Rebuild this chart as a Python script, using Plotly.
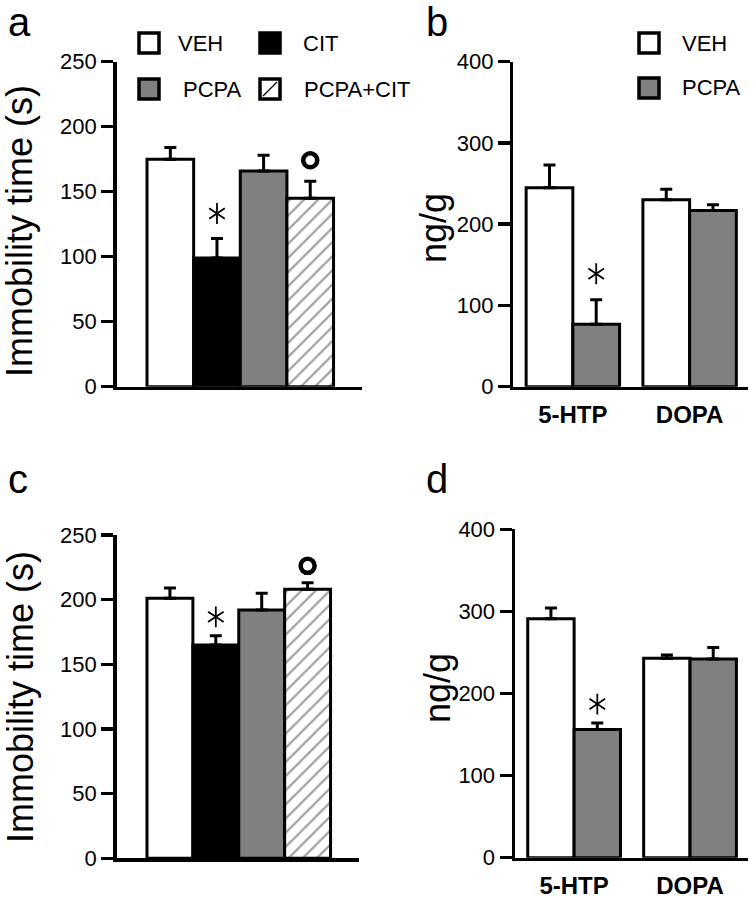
import plotly.graph_objects as go

# ---------------- data ----------------
treatments = ["VEH", "CIT", "PCPA", "PCPA+CIT"]
immob_a_mean = [175, 99, 166, 145]
immob_a_sem = [9, 15, 12, 13]
immob_c_mean = [201, 165, 192, 208]
immob_c_sem = [8, 7, 13, 5]

amines = ["5-HTP", "DOPA"]
b_veh_mean = [245, 230]
b_veh_sem = [28, 13]
b_pcpa_mean = [77, 217]
b_pcpa_sem = [30, 7]
d_veh_mean = [291, 243]
d_veh_sem = [13, 4]
d_pcpa_mean = [156, 242]
d_pcpa_sem = [8, 14]

immob_ticks = [0, 50, 100, 150, 200, 250]
amine_ticks = [0, 100, 200, 300, 400]

# ---------------- style ----------------
W, H = 754, 900
FONT = "Liberation Sans, Arial, Helvetica, sans-serif"
GRAY = "#808080"
LW = 3.5
bar_colors = ["white", "black", GRAY, "white"]
bar_patterns = ["", "", "", "/"]
BAR_W = 0.4


def fx(x):
    return x / W


def fy(y):
    return 1 - y / H


fig = go.Figure()

# panel geometry (pixels)
panels = {
    "a": dict(x=(116.7, 362.0), y=(61.7, 386.7)),
    "b": dict(x=(513.3, 748.0), y=(61.7, 386.7)),
    "c": dict(x=(116.7, 359.0), y=(535.0, 858.3)),
    "d": dict(x=(515.0, 748.0), y=(529.3, 857.7)),
}
axis_ids = {"a": ("x", "y"), "b": ("x2", "y2"), "c": ("x3", "y3"), "d": ("x4", "y4")}
yranges = {"a": [0, 250], "b": [0, 400], "c": [0, 250], "d": [0, 400]}
xranges = {"a": [-1.15, 4.11], "b": [-0.51, 1.5], "c": [-1.16, 4.12], "d": [-0.51, 1.5]}


def px_per_unit(p):
    y0, y1 = panels[p]["y"]
    return (y1 - y0) / (yranges[p][1] - yranges[p][0])


def err(sem):
    return dict(type="data", array=sem, arrayminus=[0] * len(sem), symmetric=False,
                color="black", thickness=3, width=6)


def star(p, xval, top, gap_px):
    xa, ya = axis_ids[p]
    yv = top + gap_px / px_per_unit(p)
    fig.add_trace(go.Scatter(x=[xval, xval], y=[yv, yv], mode="markers", xaxis=xa, yaxis=ya,
                             marker=dict(symbol=["y-up-open", "y-down-open"], size=13,
                                         color="black", line=dict(color="black", width=1.8)),
                             hoverinfo="skip"))


def ring(p, xval, top, gap_px):
    xa, ya = axis_ids[p]
    yv = top + gap_px / px_per_unit(p)
    fig.add_trace(go.Scatter(x=[xval], y=[yv], mode="markers", xaxis=xa, yaxis=ya,
                             marker=dict(symbol="circle-open", size=14, color="black",
                                         line=dict(color="black", width=4.5)),
                             hoverinfo="skip"))


# panels a and c
for p, mean, sem, sgap, rgap in [("a", immob_a_mean, immob_a_sem, 25, 21),
                                  ("c", immob_c_mean, immob_c_sem, 19, 17)]:
    xa, ya = axis_ids[p]
    xs = list(range(len(treatments)))
    fig.add_trace(go.Bar(x=xs, y=mean, width=1, xaxis=xa, yaxis=ya,
                         marker=dict(color=bar_colors, line=dict(color="black", width=3),
                                     pattern=dict(shape=bar_patterns, fgcolor="black", bgcolor="white",
                                                  size=10, solidity=0.22)),
                         error_y=err(sem), hovertext=treatments))
    i_cit = treatments.index("CIT")
    star(p, xs[i_cit], mean[i_cit] + sem[i_cit], sgap)
    i_pc = treatments.index("PCPA+CIT")
    ring(p, xs[i_pc], mean[i_pc] + sem[i_pc], rgap)

# panels b and d
for p, vm, vs, pm, ps, sgap in [("b", b_veh_mean, b_veh_sem, b_pcpa_mean, b_pcpa_sem, 26),
                                 ("d", d_veh_mean, d_veh_sem, d_pcpa_mean, d_pcpa_sem, 19)]:
    xa, ya = axis_ids[p]
    xs = list(range(len(amines)))
    fig.add_trace(go.Bar(x=xs, y=vm, width=BAR_W, offset=-BAR_W, xaxis=xa, yaxis=ya,
                         marker=dict(color="white", line=dict(color="black", width=3)),
                         error_y=err(vs), name="VEH"))
    fig.add_trace(go.Bar(x=xs, y=pm, width=BAR_W, offset=0, xaxis=xa, yaxis=ya,
                         marker=dict(color=GRAY, line=dict(color="black", width=3)),
                         error_y=err(ps), name="PCPA"))
    star(p, xs[0] + BAR_W / 2, pm[0] + ps[0], sgap)

# axes
layout_axes = {}
for p, (xa, ya) in axis_ids.items():
    xk = "xaxis" if xa == "x" else "xaxis" + xa[1:]
    yk = "yaxis" if ya == "y" else "yaxis" + ya[1:]
    gx = panels[p]["x"]
    gy = panels[p]["y"]
    is_amine = p in ("b", "d")
    xdict = dict(domain=[fx(gx[0]), fx(gx[1])], range=xranges[p], showgrid=False, zeroline=False,
                 showline=True, linecolor="black", linewidth=LW, ticks="", anchor=ya,
                 fixedrange=True, automargin=False)
    if is_amine:
        xdict.update(tickvals=list(range(len(amines))), ticktext=amines, showticklabels=True,
                     tickfont=dict(family=FONT, size=24, color="black", weight="bold"),
                     ticklabelstandoff=4)
    else:
        xdict.update(showticklabels=False)
    ticks_vals = amine_ticks if is_amine else immob_ticks
    ydict = dict(domain=[fy(gy[1]), fy(gy[0])], range=yranges[p], showgrid=False, zeroline=False,
                 showline=True, linecolor="black", linewidth=LW, ticks="outside", ticklen=12,
                 tickwidth=LW, tickcolor="black", tickvals=ticks_vals, automargin=False,
                 tickfont=dict(family=FONT, size=22, color="black"), anchor=xa, fixedrange=True)
    layout_axes[xk] = xdict
    layout_axes[yk] = ydict

fig.update_layout(**layout_axes)

annotations = []
shapes = []

# panel letters
for txt, x, y in [("a", 6, 22), ("b", 424, 22), ("c", 6, 479), ("d", 424, 479)]:
    annotations.append(dict(text=txt, x=fx(x), y=fy(y), xref="paper", yref="paper",
                            xanchor="left", yanchor="middle", showarrow=False,
                            font=dict(family=FONT, size=40, color="black")))

# y titles
for txt, x, y in [("Immobility time (s)", 20, 231), ("ng/g", 433, 228),
                  ("Immobility time (s)", 20, 697), ("ng/g", 437, 688)]:
    annotations.append(dict(text=txt, x=fx(x), y=fy(y), xref="paper", yref="paper",
                            xanchor="center", yanchor="middle", showarrow=False, textangle=-90,
                            font=dict(family=FONT, size=36, color="black")))


def legend_item(x0, yc, fill, label, tx, hatch=False):
    s = 20
    shapes.append(dict(type="rect", xref="paper", yref="paper",
                       x0=fx(x0), x1=fx(x0 + s), y0=fy(yc + s / 2), y1=fy(yc - s / 2),
                       fillcolor=fill, line=dict(color="black", width=LW)))
    if hatch:
        shapes.append(dict(type="line", xref="paper", yref="paper",
                           x0=fx(x0 + 3), y0=fy(yc + s / 2 - 3), x1=fx(x0 + s - 3), y1=fy(yc - s / 2 + 3),
                           line=dict(color="black", width=1.3)))
    annotations.append(dict(text=label, x=fx(tx), y=fy(yc), xref="paper", yref="paper",
                            xanchor="left", yanchor="middle", showarrow=False,
                            font=dict(family=FONT, size=22, color="black")))


legend_item(139, 43, "white", "VEH", 176)
legend_item(260, 43, "black", "CIT", 301)
legend_item(139, 89, GRAY, "PCPA", 181)
legend_item(260, 89, "white", "PCPA+CIT", 302, hatch=True)
legend_item(639, 43, "white", "VEH", 680)
legend_item(639, 88, GRAY, "PCPA", 680)

fig.update_layout(width=W, height=H, margin=dict(l=0, r=0, t=0, b=0, autoexpand=False),
                  paper_bgcolor="white", plot_bgcolor="white", showlegend=False,
                  barmode="overlay", annotations=annotations, shapes=shapes,
                  font=dict(family=FONT, color="black"))

fig.write_html("out.html", config={"displayModeBar": False, "staticPlot": True},
               post_script="document.body.style.margin='0';document.body.style.overflow='hidden';")
